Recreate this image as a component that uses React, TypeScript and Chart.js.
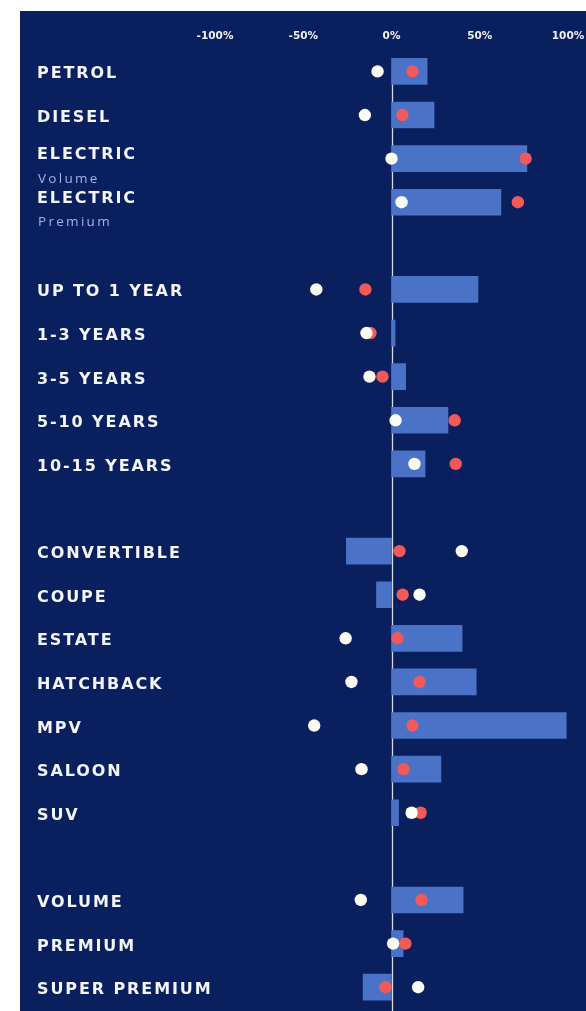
import { useEffect, useRef } from 'react';
import { Chart, registerables } from 'chart.js';

Chart.register(...registerables);

const categories = [
  'PETROL', 'DIESEL', 'ELECTRIC', 'ELECTRIC', '',
  'UP TO 1 YEAR', '1-3 YEARS', '3-5 YEARS', '5-10 YEARS', '10-15 YEARS', '',
  'CONVERTIBLE', 'COUPE', 'ESTATE', 'HATCHBACK', 'MPV', 'SALOON', 'SUV', '',
  'VOLUME', 'PREMIUM', 'SUPER PREMIUM',
];
const subLabels = [
  '', '', 'Volume', 'Premium', '',
  '', '', '', '', '', '',
  '', '', '', '', '', '', '', '',
  '', '', '',
];
const barValues = [
  20.2, 24.1, 76.7, 62, null,
  49, 2, 8, 32, 19, null,
  -25.6, -8.5, 40, 48, 99, 28, 4, null,
  40.6, 6.6, -16.1,
];
const whiteValues = [
  -7.9, -15.1, 0, 5.7, null,
  -42.6, -14.2, -12.5, 2.3, 13, null,
  39.8, 15.9, -26, -22.7, -43.8, -17, 11.4, null,
  -17.4, 0.9, 15.1,
];
const redValues = [
  11.9, 6.2, 76, 71.6, null,
  -14.8, -11.9, -5.1, 35.8, 36.4, null,
  4.5, 6.3, 3.4, 15.9, 11.9, 6.8, 16.5, null,
  17, 7.9, -3.4,
];
const tickValues = [-100, -50, 0, 50, 100];

const NAVY = '#0a1f5e';
const BAR = '#4a72c6';
const RED = '#f25a5a';
const WHITE = '#fbfbf4';

const bgPlugin = {
  id: 'bgPanel',
  beforeDraw(chart: any) {
    const { ctx } = chart;
    ctx.save();
    ctx.fillStyle = NAVY;
    ctx.fillRect(20, 11, chart.width - 20, chart.height - 11);
    ctx.restore();
  },
};

const zeroLinePlugin = {
  id: 'zeroLine',
  beforeDatasetsDraw(chart: any) {
    const { ctx } = chart;
    const x = Math.round(chart.scales.x.getPixelForValue(0)) + 0.5;
    const yTop = chart.scales.y.getPixelForValue(0) - 3;
    ctx.save();
    ctx.strokeStyle = '#d6dae6';
    ctx.lineWidth = 1.3;
    ctx.beginPath();
    ctx.moveTo(x, yTop);
    ctx.lineTo(x, chart.height);
    ctx.stroke();
    ctx.restore();
  },
};

const labelPlugin = {
  id: 'rowLabels',
  afterDatasetsDraw(chart: any) {
    const { ctx } = chart;
    const y = chart.scales.y;
    ctx.save();
    ctx.textAlign = 'left';
    ctx.textBaseline = 'alphabetic';
    categories.forEach((label, i) => {
      if (!label) return;
      const cy = y.getPixelForValue(i);
      const sub = subLabels[i];
      ctx.fillStyle = '#f3f5fa';
      ctx.font = 'bold 16px "DejaVu Sans"';
      (ctx as any).letterSpacing = '1.9px';
      if (sub) {
        ctx.fillText(label, 37, cy + 0.5);
        ctx.fillStyle = '#a3b3e6';
        ctx.font = '400 13.5px "Open Sans"';
        (ctx as any).letterSpacing = '2.3px';
        ctx.fillText(sub, 38, cy + 24);
      } else {
        ctx.fillText(label, 37, cy + 7);
      }
    });
    ctx.restore();
  },
};

export default function App() {
  const ref = useRef<HTMLCanvasElement>(null);
  useEffect(() => {
    const chart = new Chart(ref.current as HTMLCanvasElement, {
      type: 'bar',
      data: {
        labels: categories,
        datasets: [
          {
            type: 'line',
            indexAxis: 'y',
            data: whiteValues,
            showLine: false,
            pointRadius: 6.2,
            pointHoverRadius: 6.2,
            pointBackgroundColor: WHITE,
            pointBorderWidth: 0,
            borderWidth: 0,
            order: 1,
          } as any,
          {
            type: 'line',
            indexAxis: 'y',
            data: redValues,
            showLine: false,
            pointRadius: 6.2,
            pointHoverRadius: 6.2,
            pointBackgroundColor: RED,
            pointBorderWidth: 0,
            borderWidth: 0,
            order: 2,
          } as any,
          {
            type: 'bar',
            data: barValues,
            backgroundColor: BAR,
            barThickness: 26,
            borderWidth: 0,
            order: 3,
          } as any,
        ],
      },
      options: {
        indexAxis: 'y',
        responsive: false,
        animation: false,
        layout: { autoPadding: false, padding: { left: 20, right: 0, top: 23, bottom: 2 } },
        plugins: { legend: { display: false }, tooltip: { enabled: false } },
        scales: {
          x: {
            type: 'linear',
            position: 'top',
            min: -210.5,
            max: 110.2,
            grid: { display: false, drawTicks: false },
            border: { display: false },
            afterBuildTicks: (s: any) => {
              s.ticks = tickValues.map((v) => ({ value: v }));
            },
            afterFit: (s: any) => {
              s.paddingLeft = 0;
              s.paddingRight = 0;
            },
            ticks: {
              color: '#eef1f8',
              font: { family: 'DejaVu Sans', size: 10.5, weight: 'bold' },
              padding: 7,
              maxRotation: 0,
              autoSkip: false,
              callback: (v: any) => `${v}%`,
            },
          },
          y: { type: 'category', display: false, offset: true },
        },
      } as any,
      plugins: [bgPlugin, zeroLinePlugin, labelPlugin],
    });
    return () => chart.destroy();
  }, []);
  return (
    <div style={{ position: 'absolute', left: 0, top: 0 }}>
      <canvas ref={ref} width={586} height={1011} style={{ display: 'block' }} />
    </div>
  );
}
